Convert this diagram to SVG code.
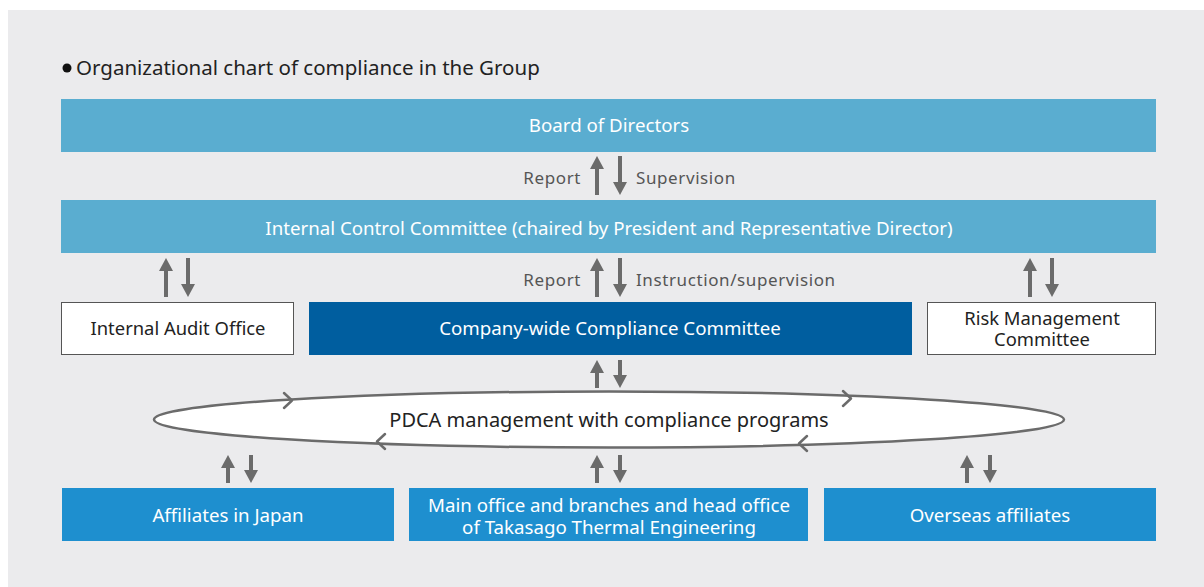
<svg xmlns="http://www.w3.org/2000/svg" width="1204" height="587" viewBox="0 0 1204 587">
<defs>
<style>
text{font-family:"Noto Sans","Open Sans","Liberation Sans",sans-serif;}
.w{fill:#ffffff;font-size:18.7px;text-anchor:middle;}
.k{fill:#222222;font-size:18.4px;text-anchor:middle;}
.g{fill:#555555;font-size:17px;letter-spacing:0.6px;}
.lb{fill:#5aadd0;}
.db{fill:#005e9f;}
.mb{fill:#1e8fcf;}
.wb{fill:#ffffff;stroke:#555555;stroke-width:1;}
.ar{stroke:#6b6b6b;stroke-width:4;fill:none;}
.ah{fill:#6b6b6b;}
.ch{stroke:#6b6b6b;stroke-width:2.5;fill:none;stroke-linecap:round;stroke-linejoin:round;}
</style>
<g id="up"><line class="ar" x1="0" y1="12" x2="0" y2="39"/><polygon class="ah" points="0,0 7,13 -7,13"/></g>
<g id="dn"><line class="ar" x1="0" y1="0" x2="0" y2="27"/><polygon class="ah" points="0,39 7,26 -7,26"/></g>
<g id="up2"><line class="ar" x1="0" y1="12" x2="0" y2="28"/><polygon class="ah" points="0,0 7,13 -7,13"/></g>
<g id="dn2"><line class="ar" x1="0" y1="0" x2="0" y2="16"/><polygon class="ah" points="0,28 7,15 -7,15"/></g>
</defs>
<rect x="0" y="0" width="1204" height="587" fill="#ffffff"/>
<rect x="8" y="10" width="1196" height="577" fill="#ebebed"/>
<g id="title">
<circle cx="67" cy="68" r="4.5" fill="#111111"/>
<text x="76" y="75" style="font-size:20.5px;fill:#222222">Organizational chart of compliance in the Group</text>
</g>
<g id="board"><rect class="lb" x="61" y="99" width="1095" height="53"/><text class="w" x="609" y="132">Board of Directors</text></g>
<g id="icc"><rect class="lb" x="61" y="200" width="1095" height="53"/><text class="w" x="609" y="235">Internal Control Committee (chaired by President and Representative Director)</text></g>
<g id="audit"><rect class="wb" x="61.5" y="302.5" width="232" height="52"/><text class="k" x="178" y="335">Internal Audit Office</text></g>
<g id="ccc"><rect class="db" x="309" y="302" width="603" height="53"/><text class="w" x="610" y="335">Company-wide Compliance Committee</text></g>
<g id="risk"><rect class="wb" x="927.5" y="302.5" width="228" height="52"/><text class="k" x="1042" y="325">Risk Management</text><text class="k" x="1042" y="346">Committee</text></g>
<g id="pdca">
<ellipse cx="609" cy="419.5" rx="455" ry="28" fill="#ffffff" stroke="#6b6b6b" stroke-width="2.5"/>
<text class="k" x="609" y="427" style="font-size:20px">PDCA management with compliance programs</text>
</g>
<g id="japan"><rect class="mb" x="62" y="488" width="332" height="53"/><text class="w" x="228" y="522">Affiliates in Japan</text></g>
<g id="main"><rect class="mb" x="409" y="488" width="399" height="53"/><text class="w" x="609" y="512">Main office and branches and head office</text><text class="w" x="609" y="534">of Takasago Thermal Engineering</text></g>
<g id="overseas"><rect class="mb" x="824" y="488" width="332" height="53"/><text class="w" x="990" y="522">Overseas affiliates</text></g>
<g id="connectors">
<use href="#up" x="597" y="156"/><use href="#dn" x="620" y="156"/>
<text class="g" x="581" y="184" text-anchor="end">Report</text>
<text class="g" x="636" y="184">Supervision</text>
<use href="#up" x="166" y="258"/><use href="#dn" x="188" y="258"/>
<use href="#up" x="597" y="258"/><use href="#dn" x="620" y="258"/>
<text class="g" x="581" y="286" text-anchor="end">Report</text>
<text class="g" x="636" y="286">Instruction/supervision</text>
<use href="#up" x="1030" y="258"/><use href="#dn" x="1052" y="258"/>
<use href="#up2" x="597" y="360"/><use href="#dn2" x="620" y="360"/>
<use href="#up2" x="228" y="455"/><use href="#dn2" x="251" y="455"/>
<use href="#up2" x="597" y="455"/><use href="#dn2" x="620" y="455"/>
<use href="#up2" x="967" y="455"/><use href="#dn2" x="990" y="455"/>
<polyline class="ch" points="284,393 292,400.5 284,408"/>
<polyline class="ch" points="843,391 851,398.5 843,406"/>
<polyline class="ch" points="385,434 377,441.5 385,449"/>
<polyline class="ch" points="807,436 799,443.5 807,451"/>
</g>
</svg>
